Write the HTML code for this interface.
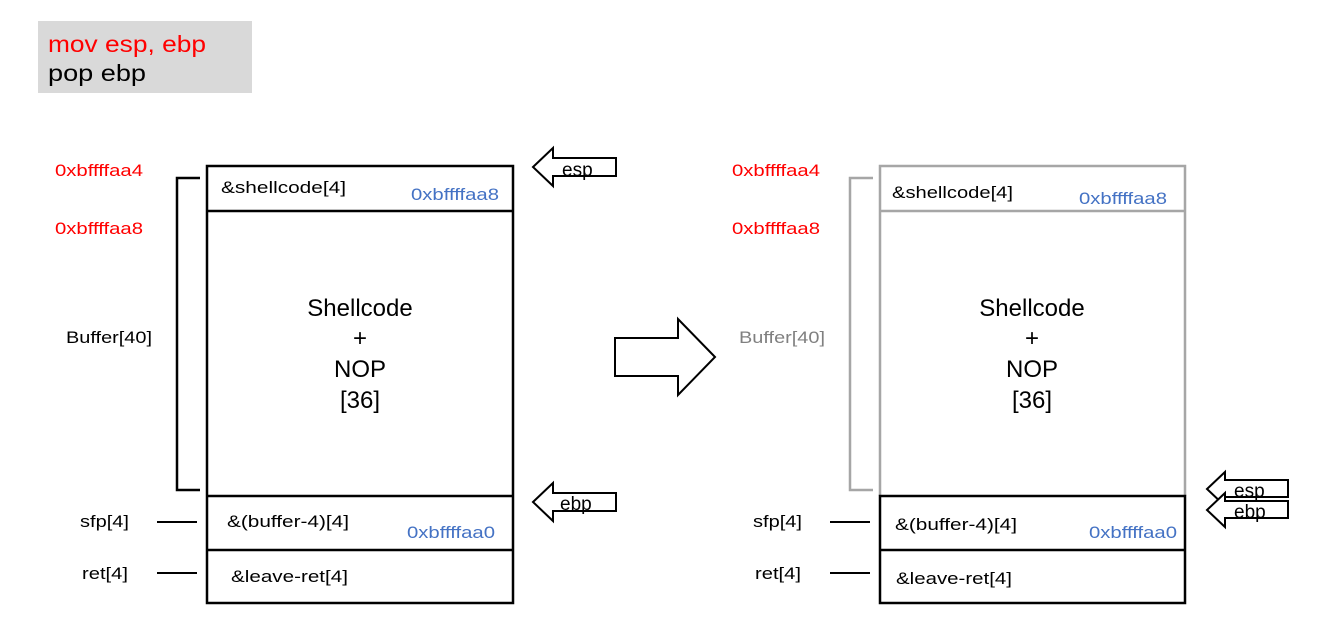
<!DOCTYPE html>
<html><head><style>body{margin:0;background:#fff}svg{display:block}text{font-family:"Liberation Sans","Noto Sans CJK KR",sans-serif}</style></head><body>
<svg width="1318" height="636" viewBox="0 0 1318 636">
<rect x="38" y="21" width="214" height="72" fill="#d9d9d9"/>
<g lengthAdjust="spacingAndGlyphs">
<text x="48" y="52" font-size="23" fill="#ff0000" textLength="158" lengthAdjust="spacingAndGlyphs">mov esp, ebp</text>
<text x="48" y="81" font-size="23" fill="#000" textLength="98" lengthAdjust="spacingAndGlyphs">pop ebp</text>
</g>
<g font-size="17">
<text x="55" y="176" fill="#ff0000" textLength="88" lengthAdjust="spacingAndGlyphs">0xbffffaa4</text>
<text x="55" y="234" fill="#ff0000" textLength="88" lengthAdjust="spacingAndGlyphs">0xbffffaa8</text>
<text x="66" y="343" textLength="86" lengthAdjust="spacingAndGlyphs">Buffer[40]</text>
<text x="80" y="527" textLength="49" lengthAdjust="spacingAndGlyphs">sfp[4]</text>
<text x="82" y="579" textLength="46" lengthAdjust="spacingAndGlyphs">ret[4]</text>
<text x="732" y="176" fill="#ff0000" textLength="88" lengthAdjust="spacingAndGlyphs">0xbffffaa4</text>
<text x="732" y="234" fill="#ff0000" textLength="88" lengthAdjust="spacingAndGlyphs">0xbffffaa8</text>
<text x="739" y="343" fill="#808080" textLength="86" lengthAdjust="spacingAndGlyphs">Buffer[40]</text>
<text x="753" y="527" textLength="49" lengthAdjust="spacingAndGlyphs">sfp[4]</text>
<text x="755" y="579" textLength="46" lengthAdjust="spacingAndGlyphs">ret[4]</text>
</g>
<line x1="157" y1="522" x2="197" y2="522" stroke="#000" stroke-width="2"/>
<line x1="157" y1="573" x2="197" y2="573" stroke="#000" stroke-width="2"/>
<line x1="830" y1="522" x2="870" y2="522" stroke="#000" stroke-width="2"/>
<line x1="830" y1="573" x2="870" y2="573" stroke="#000" stroke-width="2"/>
<path d="M200 178H177V490H200" fill="none" stroke="#000" stroke-width="2.5"/>
<path d="M873 178H850V490H873" fill="none" stroke="#a6a6a6" stroke-width="2.5"/>
<rect x="207" y="166" width="306" height="437" fill="none" stroke="#000" stroke-width="2.5"/>
<line x1="207" y1="211" x2="513" y2="211" stroke="#000" stroke-width="2.5"/>
<line x1="207" y1="496" x2="513" y2="496" stroke="#000" stroke-width="2.5"/>
<line x1="207" y1="550" x2="513" y2="550" stroke="#000" stroke-width="2.5"/>
<path d="M880 496V166H1185V496" fill="none" stroke="#a6a6a6" stroke-width="2.5"/>
<line x1="880" y1="211" x2="1185" y2="211" stroke="#a6a6a6" stroke-width="2.5"/>
<rect x="880" y="496" width="305" height="107" fill="none" stroke="#000" stroke-width="2.5"/>
<line x1="880" y1="550" x2="1185" y2="550" stroke="#000" stroke-width="2.5"/>
<g font-size="17">
<text x="221" y="193" textLength="125" lengthAdjust="spacingAndGlyphs">&amp;shellcode[4]</text>
<text x="411" y="200" fill="#4472c4" textLength="88" lengthAdjust="spacingAndGlyphs">0xbffffaa8</text>
<text x="227" y="527" textLength="122" lengthAdjust="spacingAndGlyphs">&amp;(buffer-4)[4]</text>
<text x="407" y="538" fill="#4472c4" textLength="88" lengthAdjust="spacingAndGlyphs">0xbffffaa0</text>
<text x="231" y="582" textLength="117" lengthAdjust="spacingAndGlyphs">&amp;leave-ret[4]</text>
<text x="892" y="198" textLength="121" lengthAdjust="spacingAndGlyphs">&amp;shellcode[4]</text>
<text x="1079" y="204" fill="#4472c4" textLength="88" lengthAdjust="spacingAndGlyphs">0xbffffaa8</text>
<text x="895" y="530" textLength="122" lengthAdjust="spacingAndGlyphs">&amp;(buffer-4)[4]</text>
<text x="1089" y="538" fill="#4472c4" textLength="88" lengthAdjust="spacingAndGlyphs">0xbffffaa0</text>
<text x="896" y="584" textLength="116" lengthAdjust="spacingAndGlyphs">&amp;leave-ret[4]</text>
</g>
<g font-size="24" text-anchor="middle">
<text x="360" y="316">Shellcode</text><text x="360" y="346">+</text><text x="360" y="377">NOP</text><text x="360" y="408">[36]</text>
<text x="1032" y="316">Shellcode</text><text x="1032" y="346">+</text><text x="1032" y="377">NOP</text><text x="1032" y="408">[36]</text>
</g>
<g fill="#fff" stroke="#000" stroke-width="2">
<path d="M533 167L553 148V158H616V176H553V186Z"/>
<path d="M533 502L553 483V493H616V511H553V521Z"/>
<path d="M1207 489L1225 472V480H1288V497H1225V506Z"/>
<path d="M1207 510L1225 493V501H1288V518H1225V527Z"/>
<path d="M715 357L678 319V338H615V376H678V395Z"/>
</g>
<g font-size="19">
<text x="562" y="176">esp</text>
<text x="560" y="510">ebp</text>
<text x="1234" y="497">esp</text>
<text x="1234" y="518">ebp</text>
</g>
</svg>
</body></html>
